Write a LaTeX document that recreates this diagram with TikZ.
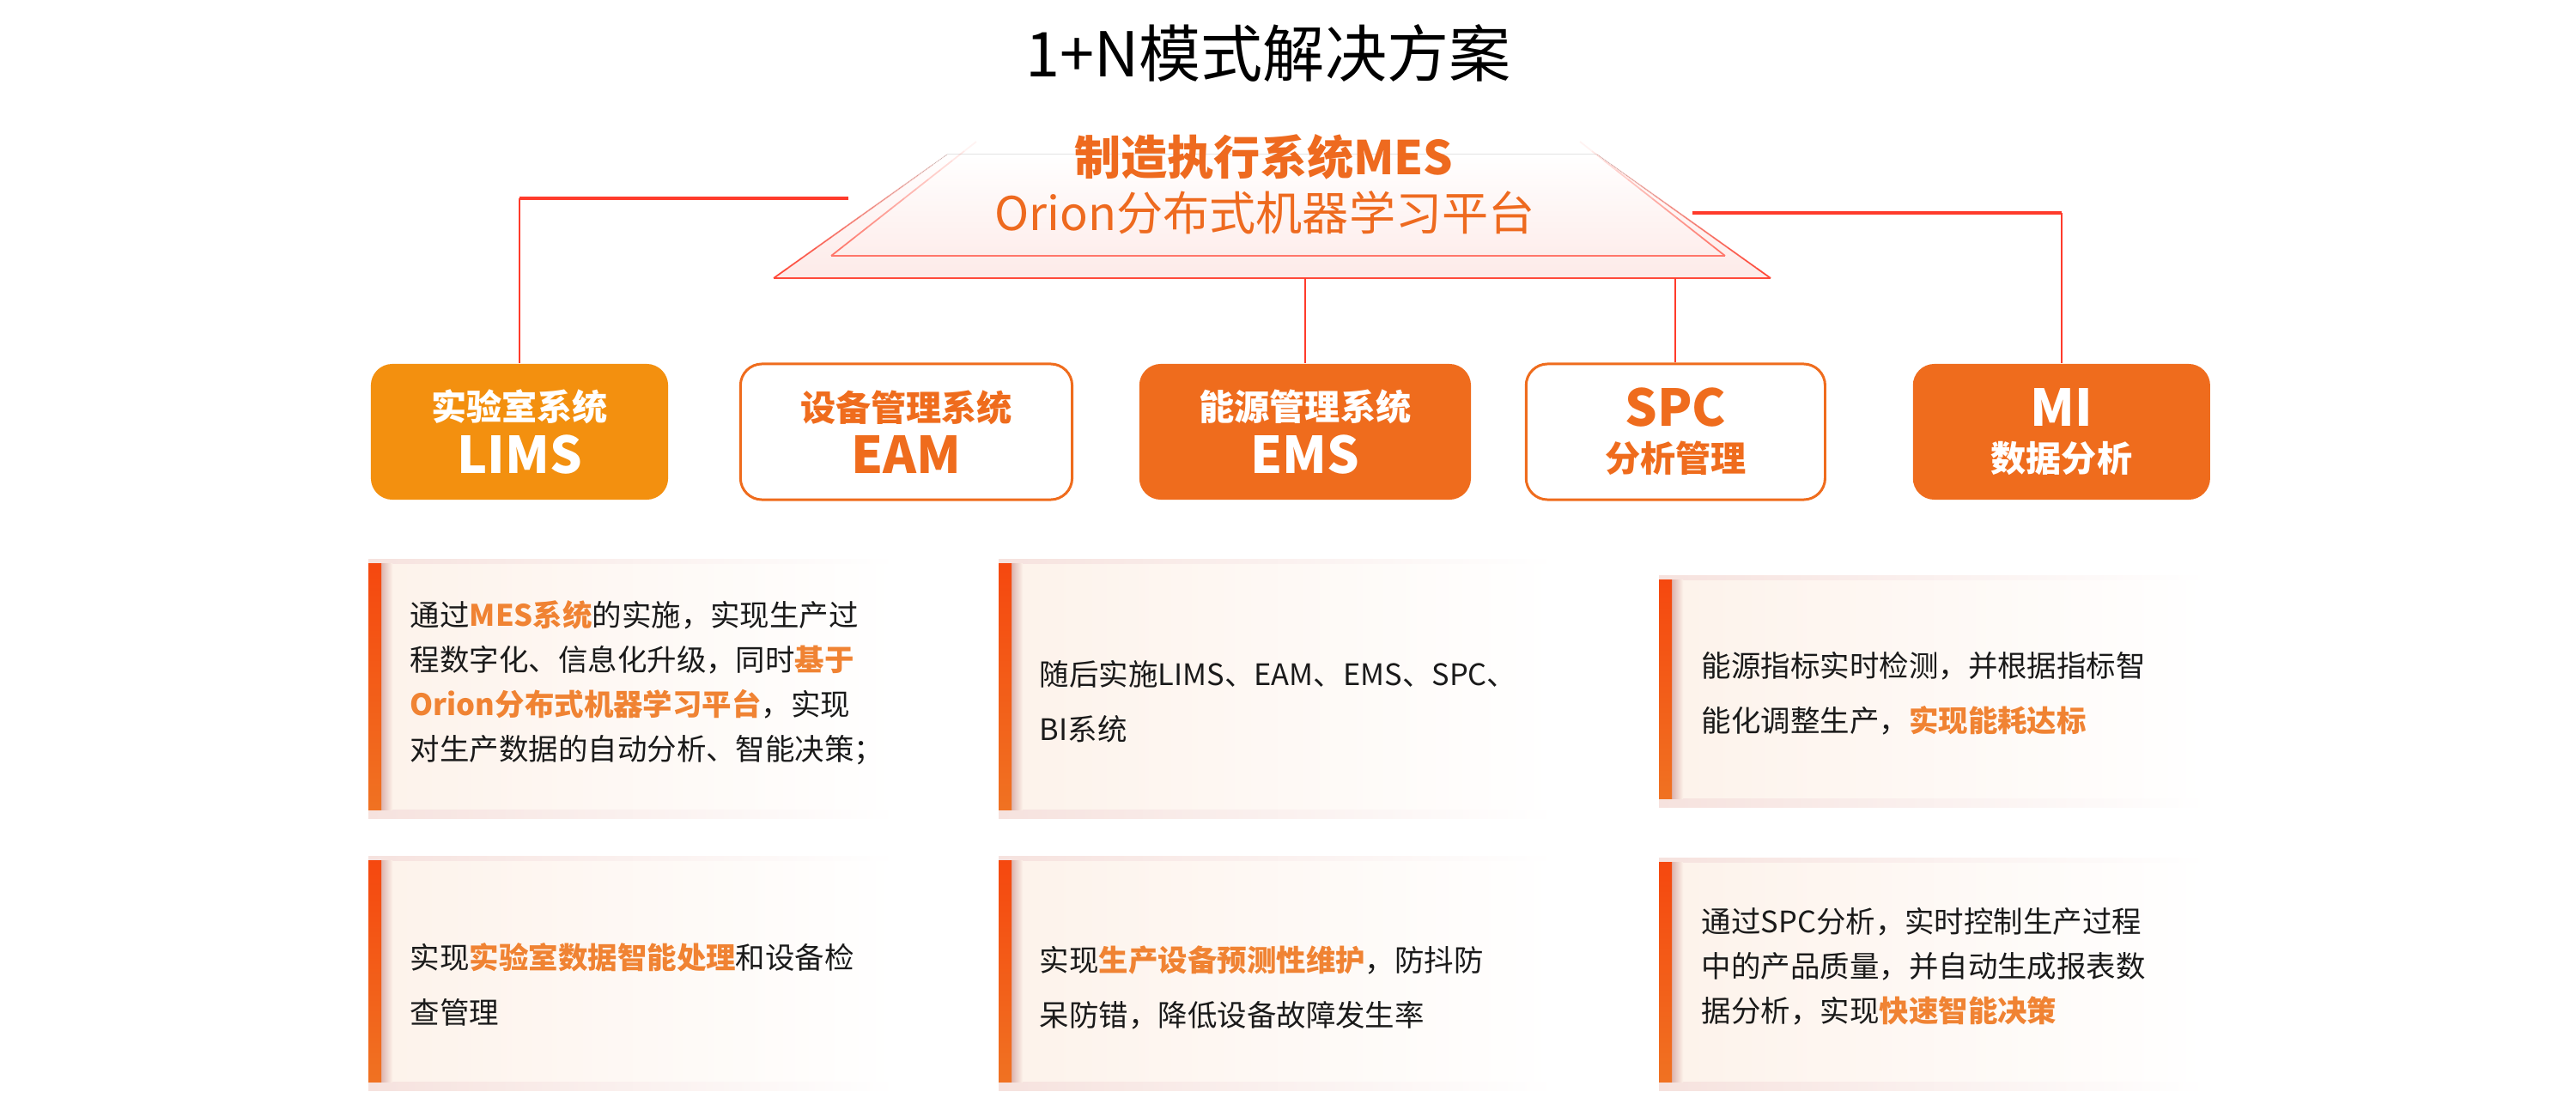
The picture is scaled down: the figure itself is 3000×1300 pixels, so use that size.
\documentclass[tikz,border=0pt]{standalone}
\usepackage{fontspec}
\setmainfont{Noto Sans CJK SC}
\usetikzlibrary{positioning,calc}
\definecolor{limsorange}{HTML}{F3900F}
\definecolor{emsorange}{HTML}{EF6C1D}
\definecolor{linkred}{HTML}{FF3B2B}
\definecolor{trapred}{HTML}{FF4A3A}
\definecolor{trappink}{HTML}{FDEAE8}
\definecolor{titleorange}{HTML}{EE6A1F}
\definecolor{hlorange}{HTML}{F08333}
\definecolor{bodyblack}{HTML}{1A1A1A}
\definecolor{panelcream}{HTML}{FDF2EA}
\definecolor{panelpink}{HTML}{FDE8E4}
\definecolor{panelshade}{HTML}{F6E2DE}
\definecolor{barred}{HTML}{F5480F}
\definecolor{barorange}{HTML}{F07222}
\definecolor{barshade}{HTML}{DDB5AF}
\newcommand{\hilite}[1]{{\bfseries\color{hlorange}#1}}
\newcommand{\cnpart}[1]{{\fontsize{11.7}{17.4}\selectfont #1}}
\newcommand{\enpart}[1]{{\fontsize{16.8}{17.4}\selectfont #1}}
\tikzset{
	sysbox/.style={rectangle,rounded corners=0.25cm,minimum width=3.46cm,
		minimum height=1.58cm,inner sep=0pt,align=center,
		font=\fontsize{11.7}{17.4}\selectfont\bfseries},
	solidbox/.style={sysbox,fill=emsorange,text=white},
	openbox/.style={sysbox,draw=emsorange,line width=0.85pt,fill=white,text=emsorange},
	panel/.style={rectangle,minimum width=6.13cm,minimum height=2.86cm,inner sep=0pt,
		left color=panelcream,middle color=panelpink,right color=white},
	barfill/.style={top color=barred,bottom color=barorange},
	barshadow/.style={left color=barshade,right color=panelcream},
	panelshadow/.style={left color=panelshade,right color=white},
	body/.style={align=left,inner sep=0pt,text=bodyblack,font=\fontsize{9.8}{14.8}\selectfont},
	bodywide/.style={body,font=\fontsize{9.8}{18.2}\selectfont},
	hlink/.style={draw=linkred,line width=0.95pt},
	vlink/.style={draw=linkred,line width=0.6pt},
	trapline/.style={draw=trapred,line width=0.5pt}
}

\begin{document}
\begin{tikzpicture}[x=0.01cm,y=-0.01cm]

\fill[white] (0,0) rectangle (3000,1300);
\useasboundingbox (0,0) rectangle (3000,1300);

% headline
\node[font=\fontsize{20.5}{24}\selectfont,text=black] (title) at (1477,62) {1+N模式解决方案};

% platform trapezium
\coordinate (tbl) at (901,324);
\coordinate (tbr) at (2062,324);
\coordinate (ttl) at (1103,180);
\coordinate (ttr) at (1860,180);
\coordinate (ibl) at (968,298);
\coordinate (ibr) at (2009,298);
\coordinate (itl) at (1137,165);
\coordinate (itr) at (1840,165);
\fill[top color=white,bottom color=trappink] (ttl) -- (tbl) -- (tbr) -- (ttr) -- cycle;
\draw[trapline] (tbl) -- (tbr);
\draw[trapline,draw=trapred!75] (ibl) -- (ibr);
\foreach \i in {0,...,11}{
	\draw[trapline,draw opacity={1-\i/12}] ($(tbl)!\i/12!(ttl)$) -- ($(tbl)!\i/12+1/12!(ttl)$);
	\draw[trapline,draw opacity={1-\i/12}] ($(tbr)!\i/12!(ttr)$) -- ($(tbr)!\i/12+1/12!(ttr)$);
	\draw[trapline,draw=trapred!75,draw opacity={1-\i/12}] ($(ibl)!\i/12!(itl)$) -- ($(ibl)!\i/12+1/12!(itl)$);
	\draw[trapline,draw=trapred!75,draw opacity={1-\i/12}] ($(ibr)!\i/12!(itr)$) -- ($(ibr)!\i/12+1/12!(itr)$);
}

\node[font=\fontsize{15.4}{18}\selectfont\bfseries,text=titleorange] (mes) at (1472,183) {制造执行系统MES};
\node[font=\fontsize{15.4}{18}\selectfont,text=titleorange] (orion) at (1473,248) {Orion分布式机器学习平台};

% systems
\node[sysbox,fill=limsorange,text=white] (lims) at (605,503) {\cnpart{实验室系统}\\\enpart{LIMS}};
\node[openbox,minimum width=3.86cm,right=0.82cm of lims] (eam) {\cnpart{设备管理系统}\\\enpart{EAM}};
\node[solidbox,minimum width=3.86cm,right=0.76cm of eam] (ems) {\cnpart{能源管理系统}\\\enpart{EMS}};
\node[openbox,minimum width=3.48cm,right=0.62cm of ems] (spc) {\enpart{SPC}\\[-2.3pt]\cnpart{分析管理}};
\node[solidbox,right=1.0cm of spc] (mi) {\enpart{MI}\\[-2.3pt]\cnpart{数据分析}};

% links
\coordinate (lstub) at (988,231);
\coordinate (rstub) at (1971,248);
\coordinate (lturn) at (lstub -| lims.north);
\coordinate (rturn) at (rstub -| mi.north);
\draw[hlink] (lstub) -- (lturn);
\draw[vlink] (lturn) -- (lims.north);
\draw[hlink] (rstub) -- (rturn);
\draw[vlink] (rturn) -- (mi.north);
\draw[vlink] (ems.north |- tbl) -- (ems.north);
\draw[vlink] (spc.north |- tbl) -- (spc.north);

% notes
\node[panel] (p1) at (736.5,800) {};
\node[panel,minimum height=2.56cm,below=0.59cm of p1] (p2) {};
\node[panel,minimum width=6.46cm] (p3) at (1487,800) {};
\node[panel,minimum width=6.46cm,minimum height=2.56cm,below=0.59cm of p3] (p4) {};
\node[panel,minimum width=6.37cm,minimum height=2.54cm] (p5) at (2251.5,803) {};
\node[panel,minimum width=6.37cm,minimum height=2.54cm,below=0.74cm of p5] (p6) {};

\foreach \p in {p1,p2,p3,p4,p5,p6}{
	\fill[panelshadow] (\p.south west) rectangle ([yshift=-0.1cm]\p.south east);
	\fill[panelshadow] ([yshift=0.05cm]\p.north west) rectangle (\p.north east);
	\fill[barshadow] ([xshift=0.15cm]\p.north west) rectangle ([xshift=0.28cm]\p.south west);
	\fill[barfill] (\p.north west) rectangle ([xshift=0.15cm]\p.south west);
}

\node[body,right=0.48cm of p1.west,yshift=0.05cm] (t1) {通过\hilite{MES系统}的实施，实现生产过\\程数字化、信息化升级，同时\hilite{基于}\\\hilite{Orion分布式机器学习平台}，实现\\对生产数据的自动分析、智能决策；};
\node[bodywide,right=0.48cm of p2.west,yshift=-0.15cm] (t2) {实现\hilite{实验室数据智能处理}和设备检\\查管理};
\node[bodywide,right=0.47cm of p3.west,yshift=-0.17cm] (t3) {随后实施LIMS、EAM、EMS、SPC、\\BI系统};
\node[bodywide,right=0.47cm of p4.west,yshift=-0.19cm] (t4) {实现\hilite{生产设备预测性维护}，防抖防\\呆防错，降低设备故障发生率};
\node[bodywide,right=0.49cm of p5.west,yshift=-0.05cm] (t5) {能源指标实时检测，并根据指标智\\能化调整生产，\hilite{实现能耗达标}};
\node[body,right=0.49cm of p6.west,yshift=0.07cm] (t6) {通过SPC分析，实时控制生产过程\\中的产品质量，并自动生成报表数\\据分析，实现\hilite{快速智能决策}};

\end{tikzpicture}
\end{document}
